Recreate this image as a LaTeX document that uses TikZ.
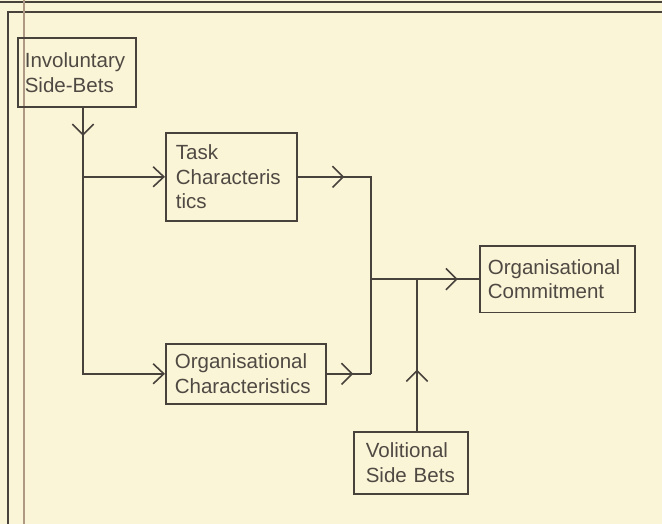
\documentclass[tikz,border=0pt]{standalone}
\usepackage{fontspec}
\setmainfont{Liberation Sans}
\usetikzlibrary{arrows.meta, positioning, decorations.markings}
\definecolor{paper}{HTML}{FBF5D8}
\definecolor{ink}{HTML}{48423C}
\definecolor{inktext}{HTML}{4F4943}
\definecolor{margin}{HTML}{AE9A84}

\begin{document}
\begin{tikzpicture}[
        x=0.75pt, y=-0.75pt,
        every node/.style={font=\fontsize{15.4}{18.5}\selectfont, text=inktext},
        box/.style={draw=ink, line width=1.2pt, align=left, anchor=north west, inner ysep=0pt},
        wire/.style={draw=ink, line width=1.2pt},
        barb/.style={-{Straight Barb[length=8pt, width=15pt]}},
        chevron at/.style={postaction={decorate}, decoration={markings, mark=at position #1 with {\arrow{Straight Barb[length=8pt, width=16pt]}}}}
    ]
        \fill[paper] (0,0) rectangle (662,524);
        \useasboundingbox (0,0) rectangle (662,524);
        \draw[ink, line width=2pt] (0,2) -- (662,2);
        \draw[ink, line width=0.8pt] (8,524) -- (8,12) -- (662,12);
        \draw[margin, line width=2.2pt] (24,0) -- (24,524);

        \node[box, text width=78pt, inner xsep=5.25pt, minimum height=52pt] (inv) at (17,37) {Involuntary\\Side-Bets};
        \node[box, text width=83.25pt, inner xsep=7.5pt, minimum height=66pt] (task) at (165,132) {Task\\Characteris\\tics};
        \node[box, text width=106.5pt, inner xsep=6.75pt, minimum height=45pt] (orgchar) at (165,343) {Organisational\\Characteristics};
        \node[box, text width=104.25pt, inner xsep=6pt, minimum height=50pt] (commit) at (479,245) {Organisational\\Commitment};
        \node[box, text width=67.5pt, inner xsep=9pt, minimum height=46.5pt] (volit) at (353,431) {Volitional\\Side Bets};

        \coordinate (trunk) at (83,0);
        \coordinate (rail) at (371,0);
        \coordinate (stem) at (417,0);

        \draw[wire, barb, chevron at=21pt] (inv.south -| trunk) |- (orgchar.west);
        \draw[wire, barb] (trunk |- task.west) -- (task.west);
        \draw[wire, chevron at=35pt] (task.east) -| (rail |- orgchar.east);
        \draw[wire, chevron at=20pt] (orgchar.east) -- (rail |- orgchar.east);
        \draw[wire, chevron at=-16pt] (rail |- commit.west) -- (commit.west);
        \draw[wire, chevron at=46pt] (volit.north -| stem) -- (stem |- commit.west);
    \end{tikzpicture}
\end{document}
